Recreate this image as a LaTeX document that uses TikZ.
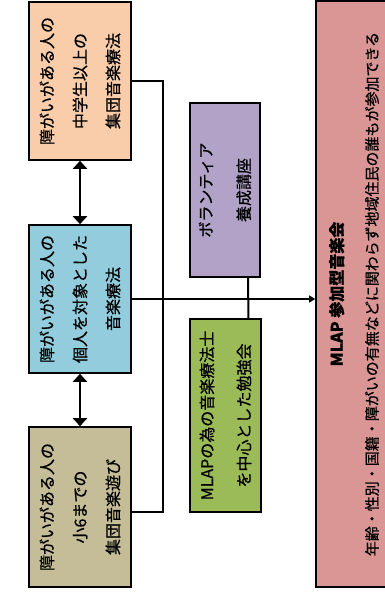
\documentclass[tikz,border=0pt]{standalone}
\usepackage{fontspec}
\usepackage{graphicx}
\setmainfont{Noto Sans CJK JP}[FakeBold=0.7]
\usetikzlibrary{arrows.meta,calc}
\definecolor{peachc}{HTML}{F9CDAA}
\definecolor{bluec}{HTML}{93CDDD}
\definecolor{khakic}{HTML}{C4BD97}
\definecolor{purplec}{HTML}{B3A2C7}
\definecolor{greenc}{HTML}{9BBB59}
\definecolor{pinkc}{HTML}{D99694}
\newcommand{\vtxt}[3]{\rotatebox{90}{\parbox{#1}{\centering\fontsize{16}{#2}\selectfont #3}}}
\tikzset{
  boxnode/.style={draw=black, line width=1.6pt, inner sep=0pt, align=center},
  dblarrow/.style={line width=2.4pt, {Triangle[width=14pt,length=8pt]}-{Triangle[width=14pt,length=8pt]}},
  linkline/.style={line width=1.6pt},
  thinarrow/.style={line width=1.2pt, -{Triangle[width=7pt,length=6pt]}}
}
\begin{document}
\begin{tikzpicture}[x=1pt,y=-1pt]
\useasboundingbox (0,0) rectangle (385,595);
\clip (0,0) rectangle (385,595);
\fill[white] (0,0) rectangle (385,595);

\node[boxnode, fill=peachc, minimum width=102pt, minimum height=158pt] (peach) at (80,81)
  {\vtxt{150pt}{33pt}{障がいがある人の\\中学生以上の\\集団音楽療法}};
\node[boxnode, fill=bluec, minimum width=102pt, minimum height=148pt] (blue) at (80,299)
  {\vtxt{145pt}{33pt}{障がいがある人の\\個人を対象とした\\音楽療法}};
\node[boxnode, fill=khakic, minimum width=102pt, minimum height=160pt] (khaki) at (80,507)
  {\vtxt{150pt}{33pt}{障がいがある人の\\小6までの\\集団音楽遊び}};
\node[boxnode, fill=purplec, minimum width=70pt, minimum height=174pt] (purple) at (225,190)
  {\vtxt{170pt}{38pt}{ボランティア\\養成講座}};
\node[boxnode, fill=greenc, minimum width=71pt, minimum height=193pt] (green) at (225.5,415.5)
  {\vtxt{190pt}{37pt}{MLAPの為の音楽療法士\\を中心とした勉強会}};
\node[boxnode, fill=pinkc, minimum width=76pt, minimum height=586pt] (pink) at (354,294)
  {\rotatebox{90}{\parbox{580pt}{\centering{\fontsize{16}{35}\selectfont\bfseries MLAP 参加型音楽会\par}{\fontsize{15}{35}\selectfont 年齢・性別・国籍・障がいの有無などに関わらず地域住民の誰もが参加できる\par}}}};

\coordinate (brk) at (163,81);
\draw[dblarrow] (peach.south) -- (blue.north);
\draw[dblarrow] (blue.south) -- (khaki.north);
\draw[linkline] (peach.east) -- (brk) |- ([yshift=-5pt]khaki.east);
\draw[thinarrow] (blue.east) -- (blue.east -| pink.west);
\draw[line width=2pt] ([xshift=23pt]purple.south) -- ([xshift=23pt]green.north);
\end{tikzpicture}
\end{document}
